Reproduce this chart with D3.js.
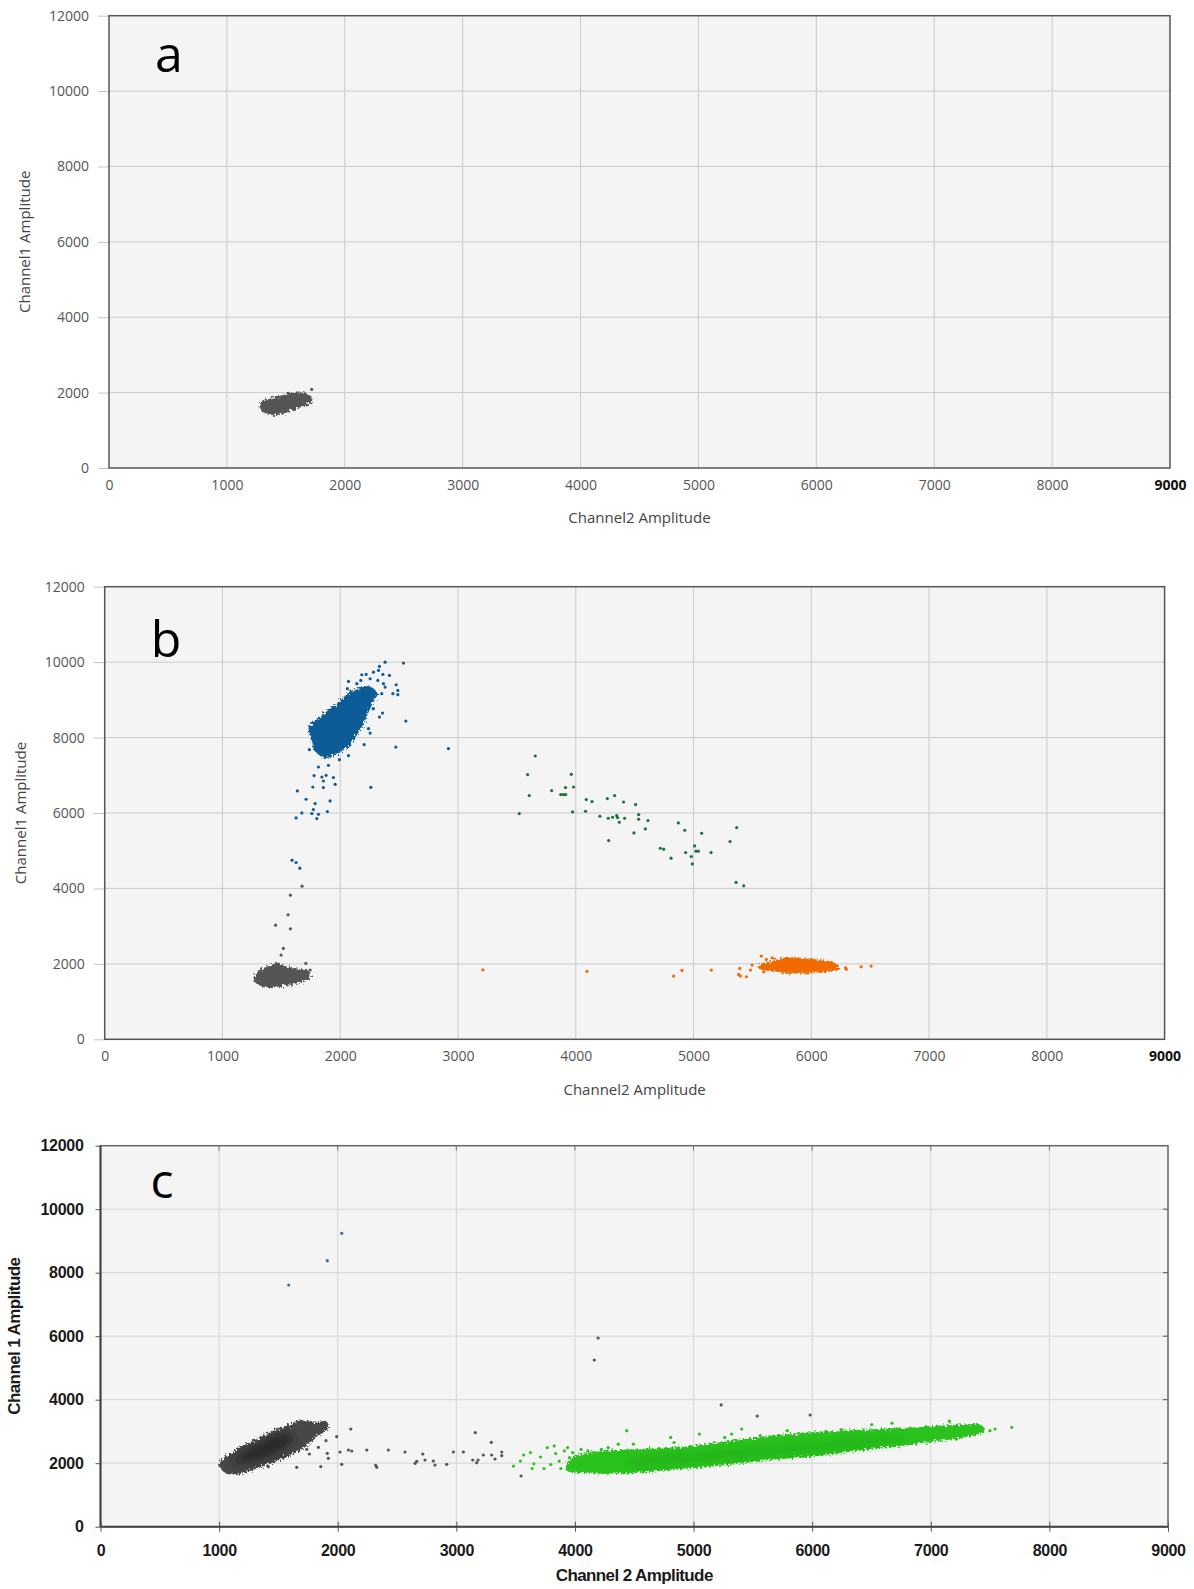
<!DOCTYPE html>
<html>
<head>
<meta charset="utf-8">
<script src="https://cdn.jsdelivr.net/npm/d3@7"></script>
<style>
  body { margin: 0; background: #fff; }
  svg { display: block; }
</style>
</head>
<body>
<div id="chart"></div>
<script>
// axis ticks shared by all three panels
var xTicks = [0,1000,2000,3000,4000,5000,6000,7000,8000,9000];
var yTicks = [0,2000,4000,6000,8000,10000,12000];

// ---- panel a ----
var aGrayCore = [[1287,1715],[1295,1538],[1337,1467],[1408,1424],[1507,1494],[1620,1626],[1691,1715],[1719,1804],[1705,1910],[1634,1981],[1535,1963],[1450,1891],[1351,1822],[1295,1759]];
var aGrayPts = [[1719,2088],[1309,1520],[1428,1451],[1520,1981],[1597,1997]];

// ---- panel b ----
var bGrayCore = [[1277,1570],[1305,1464],[1376,1393],[1489,1412],[1602,1483],[1716,1570],[1744,1703],[1716,1817],[1645,1854],[1546,1907],[1461,2013],[1404,1923],[1334,1854],[1291,1729]];
var bGrayPts = [[1708,2013],[1498,2232],[1517,2410],[1451,3027],[1577,2929],[1557,3300],[1577,3822],[1676,4060],[1277,1552],[1744,1835]];
var bBlueCore = [[1738,8279],[1759,7926],[1787,7661],[1857,7484],[1942,7529],[2014,7661],[2084,7839],[2141,8104],[2197,8411],[2240,8721],[2282,8986],[2311,9163],[2254,9338],[2169,9295],[2084,9206],[2014,8986],[1942,8808],[1872,8633],[1801,8456]];
var bBluePts = [[2381,10000],[2537,9974],[2333,9886],[2325,9780],[2282,9735],[2362,9674],[2418,9648],[2183,9666],[2220,9674],[2254,9560],[2319,9515],[2070,9489],[2175,9515],[2367,9428],[2475,9401],[2381,9338],[2489,9251],[2489,9136],[2447,9163],[2353,9163],[2141,9428],[2061,9295],[2282,8766],[2359,8650],[2333,8544],[2557,8438],[2240,8236],[2254,8120],[2203,7812],[2472,7749],[2919,7707],[1744,8279],[1738,7680],[1993,7415],[2070,7521],[1815,7219],[1900,7264],[1778,6992],[1844,6955],[1880,7000],[1942,6939],[1857,6849],[1767,6690],[1857,6674],[1957,6761],[2260,6682],[1636,6584],[1710,6364],[1787,6250],[1914,6319],[1772,6091],[1759,5985],[1674,6001],[1815,5967],[1891,6038],[1625,5869],[1801,5853],[1591,4749],[1625,4688],[1657,4537]];
var bGreenPts = [[3656,7511],[3591,7018],[3605,6462],[3962,7026],[3795,6594],[3872,6488],[3914,6488],[3895,6488],[3913,6674],[3981,6690],[3520,5985],[3973,6028],[4083,6046],[4089,6356],[4138,6303],[4268,6382],[4330,6462],[4406,6292],[4508,6223],[4205,5914],[4276,5861],[4313,5887],[4347,5932],[4355,5879],[4370,5755],[4415,5861],[4534,5959],[4534,5834],[4613,5800],[4279,5270],[4494,5471],[4591,5577],[4871,5736],[4925,5543],[5069,5463],[4718,5066],[4746,5040],[4809,4801],[4933,4952],[5009,5127],[5021,4987],[5041,4987],[4981,4846],[4990,4650],[5149,4952],[5310,5244],[5366,5614],[5361,4158],[5426,4068]];
var bOrangeCore = [[5553,1923],[5582,1854],[5695,1817],[5794,1764],[5935,1764],[6049,1790],[6177,1835],[6233,1880],[6219,1968],[6148,2055],[5992,2119],[5879,2145],[5766,2145],[5667,2055],[5582,1994]];
var bOrangePts = [[3211,1843],[4095,1801],[4831,1676],[4902,1827],[5151,1835],[5392,1880],[5383,1721],[5397,1676],[5449,1658],[5483,1835],[5497,1968],[5576,2206],[5618,2119],[5667,2161],[5596,1790],[6423,1923],[6508,1941],[6290,1897],[6298,1854]];

// ---- panel c ----
var cBlackCore = [[1008,1912],[1050,1732],[1148,1660],[1261,1786],[1401,1975],[1528,2154],[1654,2362],[1739,2573],[1809,2835],[1879,2992],[1921,3150],[1893,3307],[1809,3257],[1682,3339],[1570,3150],[1457,2992],[1317,2731],[1176,2469],[1064,2205],[1013,2047]];
var cBlackInner = [[1148,1997],[1288,2047],[1429,2258],[1541,2469],[1626,2731],[1598,2940],[1486,2888],[1345,2627],[1204,2312],[1120,2101]];
var cBlackPts = [[1415,1890],[1654,1871],[1857,1890],[1761,2290],[1739,2438],[1837,2501],[1901,2709],[1912,2312],[1921,2154],[1991,2835],[2110,3077],[2019,2353],[2034,1965],[2090,2416],[2118,2384],[2245,2416],[2320,1934],[2329,1871],[2427,2416],[2567,2353],[2652,1997],[2666,2060],[2717,2290],[2736,2101],[2806,2069],[2820,1943],[2919,1965],[2975,2353],[3059,2353],[3138,2101],[3160,2961],[3172,2016],[3183,2101],[3228,2258],[3295,2658],[3298,2258],[3326,2132],[3383,2353],[3383,2236],[4163,5250],[4195,5943],[5233,3834],[5537,3487],[5983,3518],[3546,1597]];
var cGreenCore = [[3938,1760],[4223,1700],[4508,1715],[4793,1810],[5078,1895],[5363,2000],[5648,2130],[5932,2215],[6217,2340],[6502,2480],[6787,2590],[7072,2730],[7299,2850],[7442,2990],[7413,3200],[7214,3190],[6929,3120],[6644,3070],[6359,3020],[6074,2970],[5790,2890],[5505,2770],[5220,2640],[4935,2500],[4650,2440],[4365,2390],[4081,2290],[3966,2100]];
var cGreenInner = [[4500,1960],[5000,2080],[5600,2290],[6200,2490],[6700,2670],[6700,2790],[6200,2640],[5600,2460],[5000,2270],[4500,2120]];
var cGreenPts = [[3482,1908],[3540,2066],[3568,2258],[3625,2334],[3639,1833],[3654,1981],[3710,2195],[3739,1833],[3767,2491],[3796,1959],[3825,2545],[3838,2302],[3867,2066],[3881,1833],[3910,2387],[3938,2491],[3953,2173],[3981,2334],[4052,2438],[4109,2387],[4166,2334],[4223,2438],[4280,2491],[4365,2598],[4437,3024],[4493,2598],[4807,2813],[4835,2652],[5049,2917],[5263,2813],[5320,2917],[5406,3077],[5562,2866],[5790,3024],[6117,3002],[6245,3055],[6502,3216],[6673,3260],[7157,3323],[7214,2759],[7385,3131],[7499,3024],[7542,3077],[7683,3131]];
var cBluePts = [[1587,7613],[1912,8378],[2034,9241]];

var W = 1194, H = 1589;
var svg = d3.select("#chart").append("svg")
  .attr("width", W).attr("height", H)
  .style("background", "#fff");

var defs = svg.append("defs");
var rough = defs.append("filter").attr("id", "rough")
  .attr("x", "-10%").attr("y", "-40%").attr("width", "120%").attr("height", "180%");
rough.append("feTurbulence").attr("type", "fractalNoise").attr("baseFrequency", 0.45).attr("numOctaves", 2).attr("result", "n");
rough.append("feDisplacementMap").attr("in", "SourceGraphic").attr("in2", "n").attr("scale", 7);
var soft = defs.append("filter").attr("id", "soft")
  .attr("x", "-20%").attr("y", "-50%").attr("width", "140%").attr("height", "200%");
soft.append("feGaussianBlur").attr("stdDeviation", 4);

var panels = [
  {letter: "a", left: 109, right: 1170, top: 15.7, bottom: 468, style: "plain",
   ytitle: "Channel1 Amplitude", xtitle: "Channel2 Amplitude", ytx: 24, xty: 517,
   cores: [{d: aGrayCore, c: "#555"}],
   inner: [],
   pts: [{d: aGrayPts, c: "#555"}]},
  {letter: "b", left: 104.7, right: 1164.6, top: 586.7, bottom: 1039.3, style: "plain",
   ytitle: "Channel1 Amplitude", xtitle: "Channel2 Amplitude", ytx: 20, xty: 1089,
   cores: [{d: bGrayCore, c: "#555"}, {d: bBlueCore, c: "#0d5c98"}, {d: bOrangeCore, c: "#f06a05"}],
   inner: [],
   pts: [{d: bGrayPts, c: "#5a5a5a"}, {d: bBluePts, c: "#0d5c98"}, {d: bGreenPts, c: "#17733a"}, {d: bOrangePts, c: "#f06a05"}]},
  {letter: "c", left: 100.5, right: 1168, top: 1145.7, bottom: 1526.7, style: "bold",
   ytitle: "Channel 1 Amplitude", xtitle: "Channel 2 Amplitude", ytx: 14, xty: 1576,
   cores: [{d: cBlackCore, c: "#474747"}, {d: cGreenCore, c: "#2cc21e"}],
   inner: [{d: cBlackInner, c: "#1e1e1e"}, {d: cGreenInner, c: "#1ea516"}],
   pts: [{d: cBlackPts, c: "#555"}, {d: cGreenPts, c: "#2cc21e"}, {d: cBluePts, c: "#3c6f96"}]}
];

panels.forEach(drawPanel);

function drawPanel(p) {
  var bold = p.style === "bold";
  var w = p.right - p.left, h = p.bottom - p.top;
  var x = d3.scaleLinear().domain([0, 9000]).range([0, w]);
  var y = d3.scaleLinear().domain([0, 12000]).range([h, 0]);
  var g = svg.append("g").attr("transform", "translate(" + p.left + "," + p.top + ")");
  var font = bold ? "'Liberation Sans', Arial, sans-serif" : "'Open Sans', sans-serif";

  g.append("rect").attr("width", w).attr("height", h).attr("fill", "#f4f4f4");

  // grid
  var gridCol = bold ? "#d6d6d6" : "#cbcbcb";
  g.selectAll(".vg").data(xTicks.slice(1, -1)).enter().append("line")
    .attr("x1", d => x(d)).attr("x2", d => x(d)).attr("y1", 0).attr("y2", h)
    .attr("stroke", gridCol).attr("stroke-width", 1);
  g.selectAll(".hg").data(yTicks.slice(1, -1)).enter().append("line")
    .attr("y1", d => y(d)).attr("y2", d => y(d)).attr("x1", 0).attr("x2", w)
    .attr("stroke", gridCol).attr("stroke-width", 1);

  // dense clusters
  var outline = d3.line().x(d => x(d[0])).y(d => y(d[1])).curve(d3.curveCardinalClosed.tension(0.2));
  p.cores.forEach(function(c) {
    g.append("path").attr("d", outline(c.d))
      .attr("fill", c.c).attr("stroke", c.c).attr("stroke-width", 1.5)
      .attr("filter", "url(#rough)");
  });
  p.inner.forEach(function(c) {
    g.append("path").attr("d", outline(c.d))
      .attr("fill", c.c).attr("opacity", 0.75)
      .attr("filter", "url(#soft)");
  });

  // single droplets
  p.pts.forEach(function(s) {
    g.selectAll(null).data(s.d).enter().append("circle")
      .attr("cx", d => x(d[0])).attr("cy", d => y(d[1]))
      .attr("r", 1.6).attr("fill", s.c);
  });

  // axes
  var yAxis = d3.axisLeft(y).tickValues(yTicks).tickFormat(d3.format("d")).tickSizeOuter(0);
  var xAxis = d3.axisBottom(x).tickValues(xTicks).tickFormat(d3.format("d")).tickSizeOuter(0);
  if (bold) {
    yAxis.tickSize(5).tickPadding(12);
    xAxis.tickSize(5).tickPadding(13);
  } else {
    yAxis.tickSize(11).tickPadding(9);
    xAxis.tickSize(0).tickPadding(12);
  }
  var ya = g.append("g").call(yAxis);
  var xa = g.append("g").attr("transform", "translate(0," + h + ")").call(xAxis);
  [ya, xa].forEach(function(a) {
    a.select(".domain").remove();
    a.selectAll("text").attr("font-family", font)
      .attr("font-size", bold ? 16 : 14)
      .attr("font-weight", bold ? "bold" : "normal")
      .attr("fill", bold ? "#1a1a1a" : "#555")
      .attr("letter-spacing", bold ? "-0.3px" : null);
    a.selectAll("line").attr("stroke", bold ? "#555" : "#c4c4c4");
  });
  if (bold) {
    // ticks on the bottom axis cross it, small inner ticks on the right edge
    xa.selectAll(".tick line").attr("y1", -5).attr("y2", 5);
    g.selectAll(".rt").data(yTicks.slice(1, -1)).enter().append("line")
      .attr("x1", w - 5).attr("x2", w).attr("y1", d => y(d)).attr("y2", d => y(d))
      .attr("stroke", "#555");
    g.selectAll(".tt").data(xTicks.slice(1, -1)).enter().append("line")
      .attr("x1", d => x(d)).attr("x2", d => x(d)).attr("y1", 0).attr("y2", 5)
      .attr("stroke", "#777");
  } else {
    xa.selectAll(".tick").filter(d => d === 9000).select("text")
      .attr("fill", "#111").attr("font-weight", "bold");
  }

  // frame
  g.append("rect").attr("width", w).attr("height", h)
    .attr("fill", "none").attr("stroke", bold ? "#666" : "#555").attr("stroke-width", 1.5);
  if (bold) {
    g.append("line").attr("x1", 0).attr("x2", 0).attr("y1", 0).attr("y2", h).attr("stroke", "#444").attr("stroke-width", 2);
    g.append("line").attr("x1", 0).attr("x2", w).attr("y1", h).attr("y2", h).attr("stroke", "#444").attr("stroke-width", 2);
  }

  // titles
  g.append("text")
    .attr("transform", "translate(" + (p.ytx - p.left) + "," + (h / 2) + ") rotate(-90)")
    .attr("text-anchor", "middle").attr("dominant-baseline", "central")
    .attr("font-family", font).attr("font-size", bold ? 17 : 15)
    .attr("font-weight", bold ? "bold" : "normal")
    .attr("letter-spacing", bold ? "-0.6px" : null)
    .attr("fill", bold ? "#1a1a1a" : "#444")
    .text(p.ytitle);
  g.append("text")
    .attr("x", w / 2).attr("y", p.xty - p.top)
    .attr("text-anchor", "middle").attr("dominant-baseline", "central")
    .attr("font-family", font).attr("font-size", bold ? 17 : 15)
    .attr("font-weight", bold ? "bold" : "normal")
    .attr("letter-spacing", bold ? "-0.6px" : null)
    .attr("fill", bold ? "#1a1a1a" : "#444")
    .text(p.xtitle);

  // panel letter
  g.append("text")
    .attr("x", bold ? 50 : 46).attr("y", bold ? 52 : (p.letter === "a" ? 56 : 70))
    .attr("font-family", "'Open Sans', 'Noto Sans', sans-serif")
    .attr("font-size", bold ? 48 : 50)
    .attr("fill", "#000")
    .text(p.letter);
}
</script>
</body>
</html>
